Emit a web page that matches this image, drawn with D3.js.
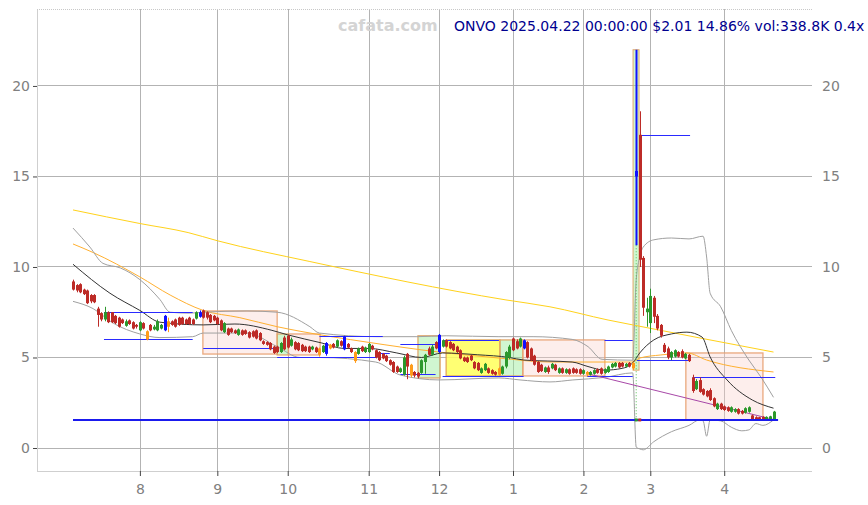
<!DOCTYPE html>
<html><head><meta charset="utf-8">
<script src="https://cdn.jsdelivr.net/npm/d3@7"></script>
<style>body{margin:0;background:#fff}svg{display:block}</style>
</head><body>
<svg id="c" width="868" height="505"></svg>
<script>
// ---- data (trading-day index based) ----
const monthTickIdx = [19, 41, 61, 84, 104, 125, 145, 164, 185];
const monthLabels = ['8','9','10','11','12','1','2','3','4'];
const yTicks = [0, 5, 10, 15, 20];

const opens = [
9.2,9.0,9.05,8.75,8.7,8.45,8.45,7.7,7.45,7.1,
7.5,7.5,7.3,7.2,7.1,6.75,7.05,6.95,6.8,6.5,
6.9,6.0,6.8,6.55,6.5,6.6,6.5,6.7,7.0,7.1,
7.2,7.2,7.1,7.2,7.1,7.15,7.25,7.6,7.5,7.35,
7.3,7.2,7.05,6.4,6.6,6.6,6.5,6.25,6.5,6.5,
6.4,6.45,6.5,6.35,5.9,5.85,5.8,5.6,5.6,5.3,
6.1,6.2,5.65,5.85,5.8,5.7,5.6,5.6,5.45,5.55,
5.5,5.3,5.2,5.5,5.75,5.6,5.9,5.45,5.75,5.5,
5.3,5.2,5.6,5.3,5.3,5.65,5.4,5.3,5.2,5.1,
4.85,4.75,4.5,4.2,4.05,5.2,4.6,4.2,4.15,4.15,
4.75,5.5,5.15,5.85,5.3,5.6,5.95,5.85,5.75,5.6,
5.4,5.0,5.0,5.1,4.75,4.7,4.15,4.3,4.4,4.3,
4.2,4.4,4.1,4.5,5.0,6.05,5.9,5.6,5.5,5.85,
5.5,5.1,4.75,4.6,4.2,4.45,4.4,4.6,4.15,4.4,
4.15,4.35,4.4,4.35,4.35,4.1,4.2,4.05,4.1,4.35,
4.4,4.15,4.2,4.45,4.5,4.7,4.7,4.5,4.7,4.7,
15.3,17.3,10.5,7.5,6.9,8.3,7.3,6.8,5.7,5.5,
5.0,5.05,5.3,5.35,4.95,5.15,3.9,3.25,3.75,3.25,
3.15,3.2,2.75,2.15,2.45,2.3,2.25,2.0,2.0,2.15,
2.05,1.95,2.0,1.8,1.7,1.7,1.72,1.6,1.58,1.6];
const highs = [
9.3,9.05,9.1,8.8,8.75,8.5,8.5,7.8,7.5,7.8,
7.55,7.5,7.35,7.25,7.15,7.1,7.1,7.0,6.85,7.0,
6.95,6.5,6.85,6.8,7.1,6.85,7.35,7.2,7.05,7.15,
7.25,7.25,7.15,7.25,7.15,7.55,7.6,7.65,7.55,7.4,
7.35,7.25,7.1,6.95,6.65,6.65,6.55,6.6,6.55,6.55,
6.45,6.5,6.55,6.4,5.95,5.9,5.85,5.65,5.65,5.85,
6.2,6.25,6.1,5.9,5.85,5.75,5.65,5.65,5.65,5.6,
5.55,5.7,5.85,5.75,5.8,6.0,5.95,6.2,5.8,5.55,
5.35,5.55,5.65,5.6,5.8,5.7,5.45,5.35,5.25,5.15,
4.9,4.8,4.55,4.45,5.1,5.25,4.65,4.25,4.2,4.9,
5.2,5.6,5.7,5.9,6.3,6.0,6.0,5.9,5.8,5.65,
5.45,5.05,5.05,5.15,4.8,4.75,4.45,4.7,4.45,4.35,
4.25,4.45,4.55,5.35,5.7,6.1,6.0,6.1,6.0,5.9,
5.55,5.15,4.8,4.65,4.5,4.55,4.7,4.65,4.45,4.45,
4.4,4.4,4.45,4.4,4.4,4.35,4.25,4.25,4.35,4.4,
4.45,4.4,4.55,4.7,4.75,4.75,4.75,4.7,4.75,4.75,
22.0,18.6,10.6,8.3,8.8,8.4,7.4,6.85,5.8,5.6,
5.35,5.45,5.35,5.45,5.25,5.2,4.05,3.8,3.9,3.3,
3.2,3.3,2.8,2.5,2.5,2.35,2.3,2.3,2.2,2.2,
2.1,2.25,2.3,1.85,1.75,1.72,1.75,1.75,1.78,2.05];
const lows = [
8.7,8.6,8.55,8.45,7.95,8.0,8.0,6.7,7.0,7.0,
6.9,6.9,6.85,6.65,6.85,6.7,6.8,6.55,6.6,6.45,
6.55,5.95,6.45,6.5,6.45,6.55,6.45,6.4,6.75,6.65,
6.75,6.8,6.8,6.8,6.8,7.1,7.2,7.15,7.1,6.9,
7.0,6.8,6.45,6.35,6.2,6.35,6.3,6.2,6.2,6.25,
6.05,6.1,6.0,5.9,5.7,5.65,5.4,5.2,5.25,5.25,
5.4,5.5,5.6,5.4,5.35,5.3,5.3,5.25,5.4,5.25,
5.05,5.25,5.1,5.45,5.5,5.55,5.6,5.4,5.5,5.25,
4.7,5.15,5.3,5.25,5.25,5.4,4.95,4.8,4.9,4.75,
4.55,4.15,4.15,4.15,4.0,3.8,3.9,3.9,3.85,4.1,
4.1,5.1,5.1,5.45,5.25,5.55,5.55,5.45,5.35,5.25,
4.9,4.75,4.7,4.8,4.35,4.25,4.1,4.25,4.1,4.05,
4.0,4.0,4.05,4.4,4.9,5.35,5.45,5.55,5.45,4.95,
4.8,4.55,4.15,4.2,4.15,4.1,4.35,4.25,4.1,4.1,
4.1,4.05,4.1,4.1,4.05,4.05,3.95,4.0,4.05,4.1,
4.05,4.1,4.15,4.4,4.45,4.4,4.45,4.45,4.45,4.3,
11.2,10.0,7.3,6.7,6.35,6.9,6.5,6.1,5.25,4.9,
4.85,5.0,5.0,4.95,4.9,4.75,3.05,3.2,3.05,2.9,
2.8,2.6,2.25,2.1,2.1,2.05,2.0,1.95,1.95,1.85,
1.85,1.9,1.95,1.55,1.52,1.52,1.54,1.56,1.55,1.56];
const closes = [
8.75,8.7,8.6,8.5,8.0,8.1,8.05,7.35,7.1,7.5,
6.95,6.95,6.9,6.7,6.9,7.0,6.85,6.6,6.7,6.95,
6.6,6.45,6.5,6.7,7.0,6.8,7.3,7.0,6.8,6.7,
6.8,6.85,6.85,6.85,6.85,7.5,7.5,7.2,7.2,6.95,
7.05,6.85,6.5,6.9,6.25,6.4,6.35,6.55,6.25,6.3,
6.1,6.15,6.05,5.95,5.75,5.7,5.45,5.25,5.3,5.8,
5.45,5.55,6.0,5.45,5.4,5.35,5.35,5.3,5.6,5.3,
5.15,5.65,5.8,5.7,5.55,5.95,5.65,6.15,5.55,5.3,
4.8,5.5,5.35,5.55,5.75,5.45,5.0,4.85,4.95,4.8,
4.6,4.2,4.2,4.4,5.0,4.5,4.0,4.0,3.95,4.85,
5.15,5.15,5.6,5.5,6.25,5.95,5.6,5.5,5.4,5.3,
4.95,4.8,4.75,4.85,4.4,4.3,4.4,4.65,4.15,4.1,
4.05,4.05,4.5,5.3,5.6,5.4,5.5,6.05,5.95,5.0,
4.85,4.6,4.2,4.25,4.45,4.2,4.65,4.3,4.4,4.15,
4.35,4.1,4.15,4.15,4.1,4.3,4.05,4.2,4.3,4.15,
4.1,4.35,4.5,4.65,4.7,4.45,4.5,4.65,4.5,4.4,
15.0,10.4,7.75,7.7,8.4,7.25,6.6,6.2,5.3,5.0,
5.3,5.4,5.05,5.0,5.2,4.8,3.15,3.7,3.1,2.95,
2.85,2.65,2.3,2.45,2.15,2.1,2.05,2.25,2.15,1.9,
1.9,2.2,2.25,1.58,1.56,1.56,1.58,1.72,1.75,2.01];
const blueCandles = [26, 36, 72, 77, 104, 128, 160];
const orangeCandles = [21, 27, 70, 73, 80, 96, 121, 146, 159];

// indicator lines: [index, value]
const bbUpper = [[0,12.15],[4.8,11.1],[8.5,10.2],[13.4,9.95],[19,9.3],[24.7,8.2],[27.6,7.5],[33,7.45],[37,7.5],[49.4,7.57],[58,7.5],[67.3,6.7],[70,6.35],[86.4,6.15],[97.7,6.15],[106,6.2],[121,6.15],[130.7,6.15],[141.8,6.0],[146.3,5.6],[150.3,4.9],[159,4.85],[160,9.3],[161,10.55],[162,11.1],[165,11.5],[170,11.6],[175,11.55],[179,11.7],[180,10.55],[181,8.55],[184,7.8],[187,6.5],[192,4.86],[195.5,3.9],[199,2.8]];
const bbMiddle = [[0,10.15],[10.5,8.55],[19,7.6],[24.7,6.95],[37,6.8],[46,6.85],[56.5,6.5],[61,6.25],[70.7,5.8],[77,5.5],[84,5.5],[92,5.25],[99,5.0],[105,5.25],[115,5.15],[124,5.0],[128,4.86],[141.8,4.75],[146.3,4.5],[151,4.3],[156,4.4],[159,4.7],[161,5.25],[165,5.97],[170,6.3],[174.4,6.4],[178.7,6.13],[181,5.03],[185.8,3.76],[193,2.65],[199,2.2]];
const bbLower = [[0,8.1],[5.7,7.7],[11.4,6.9],[19,6.3],[24.7,6.1],[34,6.15],[37,6.35],[49.4,6.35],[58,5.6],[64.5,5.0],[70,5.0],[86,4.75],[93,4.03],[104,3.76],[121,3.87],[127,3.76],[135.5,3.65],[142,3.76],[151,3.9],[159,4.15],[160,0.05],[161,-0.05],[162,-0.1],[165,0.35],[170,0.9],[175,1.25],[178,1.55],[179,1.5],[180,0.65],[181,1.55],[184,1.5],[187,1.15],[190,0.95],[192,1.0],[194,1.35],[196,1.25],[199,1.55]];
const maOrange = [[0,11.27],[5.7,10.8],[19,9.45],[27.6,8.45],[37,7.6],[47.4,7.2],[58,6.7],[64.5,6.45],[83.5,5.85],[104,5.3],[121,4.97],[135.5,4.75],[159,4.75],[161,4.97],[167,5.14],[174.4,5.25],[180,4.86],[199,4.2]];
const maYellow = [[0,13.15],[19,12.4],[32.7,11.9],[41,11.45],[67.3,10.3],[123,8.18],[135.5,7.8],[152,7.07],[159,6.8],[199,5.3]];

// highlighted boxes: start index, end index, high, low, kind
const boxes = [
  {s:36.9, e:58, hi:7.57, lo:5.19, kind:'pink'},
  {s:58, e:61.2, hi:6.3, lo:5.14, kind:'green'},
  {s:61.2, e:70.2, hi:6.3, lo:5.14, kind:'pink'},
  {s:98, e:104.3, hi:6.2, lo:3.87, kind:'green'},
  {s:106, e:121.3, hi:5.97, lo:3.98, kind:'yellow'},
  {s:121.3, e:127.8, hi:5.97, lo:3.98, kind:'green'},
  {s:127.8, e:151.1, hi:5.97, lo:3.98, kind:'pink'},
  {s:159.1, e:160.8, hi:22.0, lo:4.3, kind:'green'},
  {s:174.1, e:196, hi:5.25, lo:1.55, kind:'pink'}
];
// horizontal support/resistance levels: [start index, end index, value]
const levels = [
  [8.8,34,7.5],[8.8,34,6.0],[37,56.8,5.5],[58,86.4,5.0],[70,88,6.2],[86.4,90,5.23],
  [93,104,5.75],[93,103,4.1],[105,121,5.97],[105,128,4.0],[151,159,5.97],[146,159,4.0],
  [160.2,175.3,4.86],[161,175.3,17.3],[176,199.5,3.9]
];
const baseLevel = [0, 200.3, 1.55];
const trendLine = [[146.5,4.09],[199.5,1.55]];
const gapLine = [[160,11.2],[160,1.55]];
const baseMarks = [{i:160, up:true},{i:161, up:false}];
const titleText = 'ONVO 2025.04.22 00:00:00 $2.01 14.86% vol:338.8K 0.4x';
const watermark = 'cafata.com';

// ---- drawing ----
const svg = d3.select('#c');
const L = 37, R = 812, T = 9, B = 471;
const x = d3.scaleLinear().domain([0, 199]).range([73, 773.5]);
const y = d3.scaleLinear().domain([-1.27, 24.25]).range([B, T]);

const RED = '#bd2b27', GREEN = '#2c982c', BLUE = '#1010ff', ORANGE = '#ff9c1a';

// gridlines
svg.append('g').selectAll('line').data(yTicks).join('line')
  .attr('x1', L).attr('x2', R).attr('y1', d => y(d)).attr('y2', d => y(d))
  .attr('stroke', '#b3b3b3').attr('stroke-width', 1).attr('shape-rendering','crispEdges');
svg.append('g').selectAll('line').data(monthTickIdx).join('line')
  .attr('x1', d => Math.round(x(d))+0.5).attr('x2', d => Math.round(x(d))+0.5).attr('y1', T).attr('y2', B)
  .attr('stroke', '#b3b3b3').attr('stroke-width', 1);

// frame
svg.append('line').attr('x1', L+0.5).attr('x2', L+0.5).attr('y1', T).attr('y2', B).attr('stroke', '#cfcfcf');
svg.append('line').attr('x1', L).attr('x2', R).attr('y1', B+0.5).attr('y2', B+0.5).attr('stroke', '#cfcfcf');
svg.append('line').attr('x1', L).attr('x2', R).attr('y1', T+0.5).attr('y2', T+0.5).attr('stroke', '#c8c8c8').attr('stroke-dasharray','1,1');

// boxes
const boxFill = {pink:'rgba(250,205,200,0.35)', green:'rgba(150,235,150,0.45)', yellow:'rgba(255,255,90,0.85)'};
const boxStroke = {pink:'#e8a070', green:'#e0a060', yellow:'#e0a050'};
svg.append('g').selectAll('rect').data(boxes).join('rect')
  .attr('x', d => x(d.s)).attr('width', d => x(d.e) - x(d.s))
  .attr('y', d => y(d.hi)).attr('height', d => y(d.lo) - y(d.hi))
  .attr('fill', d => boxFill[d.kind]).attr('stroke', d => boxStroke[d.kind])
  .attr('stroke-width', d => (d.e - d.s) < 3 ? 1 : 1.3).attr('stroke-opacity', 0.9);

// indicator lines
const line = d3.line().x(d => x(d[0])).y(d => y(d[1])).curve(d3.curveMonotoneX);
function drawLine(data, color, w) {
  svg.append('path').datum(data).attr('d', line).attr('fill', 'none').attr('stroke', color).attr('stroke-width', w);
}
drawLine(maYellow, '#ffd21a', 1);
drawLine(maOrange, '#ffb030', 1);
drawLine(bbUpper, '#a0a0a0', 1);
drawLine(bbLower, '#a0a0a0', 1);
drawLine(bbMiddle, '#333333', 1);

// support levels
svg.append('g').selectAll('line').data(levels).join('line')
  .attr('x1', d => x(d[0])).attr('x2', d => x(d[1])).attr('y1', d => Math.round(y(d[2]))+0.5).attr('y2', d => Math.round(y(d[2]))+0.5)
  .attr('stroke', '#2a2aff').attr('stroke-width', 1);

// trend line
svg.append('path').datum(trendLine).attr('d', d3.line().x(d => x(d[0])).y(d => y(d[1])))
  .attr('stroke', '#a848a8').attr('fill','none').attr('stroke-width', 1);
// gap dotted line
svg.append('path').datum(gapLine).attr('d', d3.line().x(d => x(d[0])).y(d => y(d[1])))
  .attr('stroke', '#55c055').attr('stroke-dasharray','1,2').attr('fill','none').attr('stroke-width', 1);

// candles
const idx = d3.range(closes.length);
function col(i) {
  if (blueCandles.includes(i)) return BLUE;
  if (orangeCandles.includes(i)) return ORANGE;
  return closes[i] >= opens[i] ? GREEN : RED;
}
const cw = 3;
const cg = svg.append('g');
cg.selectAll('line').data(idx).join('line')
  .attr('x1', i => Math.round(x(i))+0.5).attr('x2', i => Math.round(x(i))+0.5)
  .attr('y1', i => y(highs[i])).attr('y2', i => y(lows[i]))
  .attr('stroke', i => col(i)).attr('stroke-width', i => i === 160 ? 2 : 1);
cg.selectAll('rect').data(idx).join('rect')
  .attr('x', i => Math.round(x(i)) - 1).attr('width', cw)
  .attr('y', i => y(Math.max(opens[i], closes[i])))
  .attr('height', i => Math.max(1, Math.abs(y(opens[i]) - y(closes[i]))))
  .attr('fill', i => col(i));

// base level
svg.append('line').attr('x1', x(baseLevel[0])).attr('x2', x(baseLevel[1]))
  .attr('y1', y(baseLevel[2])).attr('y2', y(baseLevel[2])).attr('stroke', '#1a1aee').attr('stroke-width', 2);
svg.append('g').selectAll('rect').data(baseMarks).join('rect')
  .attr('x', d => x(d.i) - 1.5).attr('width', 3).attr('y', y(baseLevel[2]) - 1.5).attr('height', 3)
  .attr('fill', d => d.up ? GREEN : RED);

// axes
const axFont = 'DejaVu Sans, sans-serif';
const gl = svg.append('g').attr('transform', `translate(${L},0)`)
  .call(d3.axisLeft(y).tickValues(yTicks).tickSize(4).tickPadding(3));
const gr = svg.append('g').attr('transform', `translate(${R},0)`)
  .call(d3.axisRight(y).tickValues(yTicks).tickSize(0).tickPadding(10));
const gb = svg.append('g').attr('transform', `translate(0,${B})`)
  .call(d3.axisBottom(x).tickValues(monthTickIdx).tickFormat((d, i) => monthLabels[i]).tickSize(5).tickPadding(8));
[gl, gr, gb].forEach(g => {
  g.select('.domain').remove();
  g.selectAll('text').attr('fill', '#808080').style('font-family', axFont).style('font-size', '14px');
  g.selectAll('.tick line').attr('stroke', '#444');
});

// texts
svg.append('text').attr('x', 338).attr('y', 31).text(watermark)
  .style('font-family', axFont).style('font-size', '16px').style('font-weight', 'bold').attr('fill', '#d4d4d4');
svg.append('text').attr('x', 454).attr('y', 31).text(titleText)
  .style('font-family', axFont).style('font-size', '14px').attr('fill', '#00008f');
</script>
</body></html>
